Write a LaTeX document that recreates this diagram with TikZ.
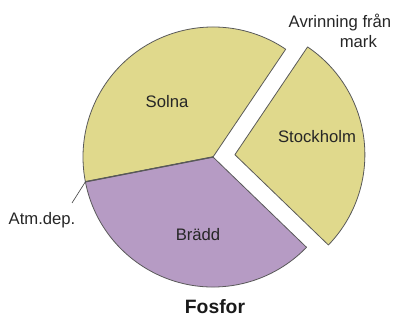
\documentclass[tikz,border=0pt]{standalone}
\usepackage{fontspec}
\setmainfont{Liberation Sans}
\usetikzlibrary{calc}

\definecolor{pieyellow}{RGB}{224,217,140}
\definecolor{piepurple}{RGB}{182,155,196}

\begin{document}
\begin{tikzpicture}[
    x=0.75pt, y=0.75pt,
    slice/.style={draw=black!65, line width=0.6pt, line join=round},
    slicelabel/.style={font=\fontsize{12.5}{15}\selectfont, text=black!85},
    charttitle/.style={font=\fontsize{14.5}{17}\selectfont\bfseries, text=black!90},
    leader/.style={draw=black!70, line width=0.5pt}
]
    \useasboundingbox (0,0) rectangle (400,321);

    % Pie centre, and centre of the pulled out slice
    \coordinate (c) at (213,164);
    \coordinate (cs) at ($(c)+(6:22)$);

    % --- Slices ---
    \draw[slice, fill=pieyellow] (c) -- ($(c)+(56:130)$)
        arc[start angle=56, end angle=191, radius=97.5pt] -- cycle;
    \draw[slice, fill=piepurple] (c) -- ($(c)+(191:130)$)
        arc[start angle=191, end angle=316, radius=97.5pt] -- cycle;
    \draw[slice, fill=pieyellow] (cs) -- ($(cs)+(316:130)$)
        arc[start angle=316, end angle=416, radius=97.5pt] -- cycle;

    % Atm.dep. sliver
    \coordinate (atmtip) at ($(c)+(191:130)$);
    \draw[slice, line width=1pt] (c) -- (atmtip);

    % --- Labels ---
    \node[slicelabel] (solna) at (167,219) {Solna};
    \node[slicelabel] (sthlm) at (317,184) {Stockholm};
    \node[slicelabel] (bradd) at (198,86) {Brädd};
    \node[slicelabel, align=center, inner sep=0pt] (avr) at (340,290)
        {Avrinning från\\\hspace*{2.2em}mark};
    \node[slicelabel] (atm) at (42,101) {Atm.dep.};
    \coordinate (atmend) at (72,118);
    \draw[leader] (atmtip) -- (atmend);

    \node[charttitle] (fosfor) at (215,14) {Fosfor};

\end{tikzpicture}
\end{document}
